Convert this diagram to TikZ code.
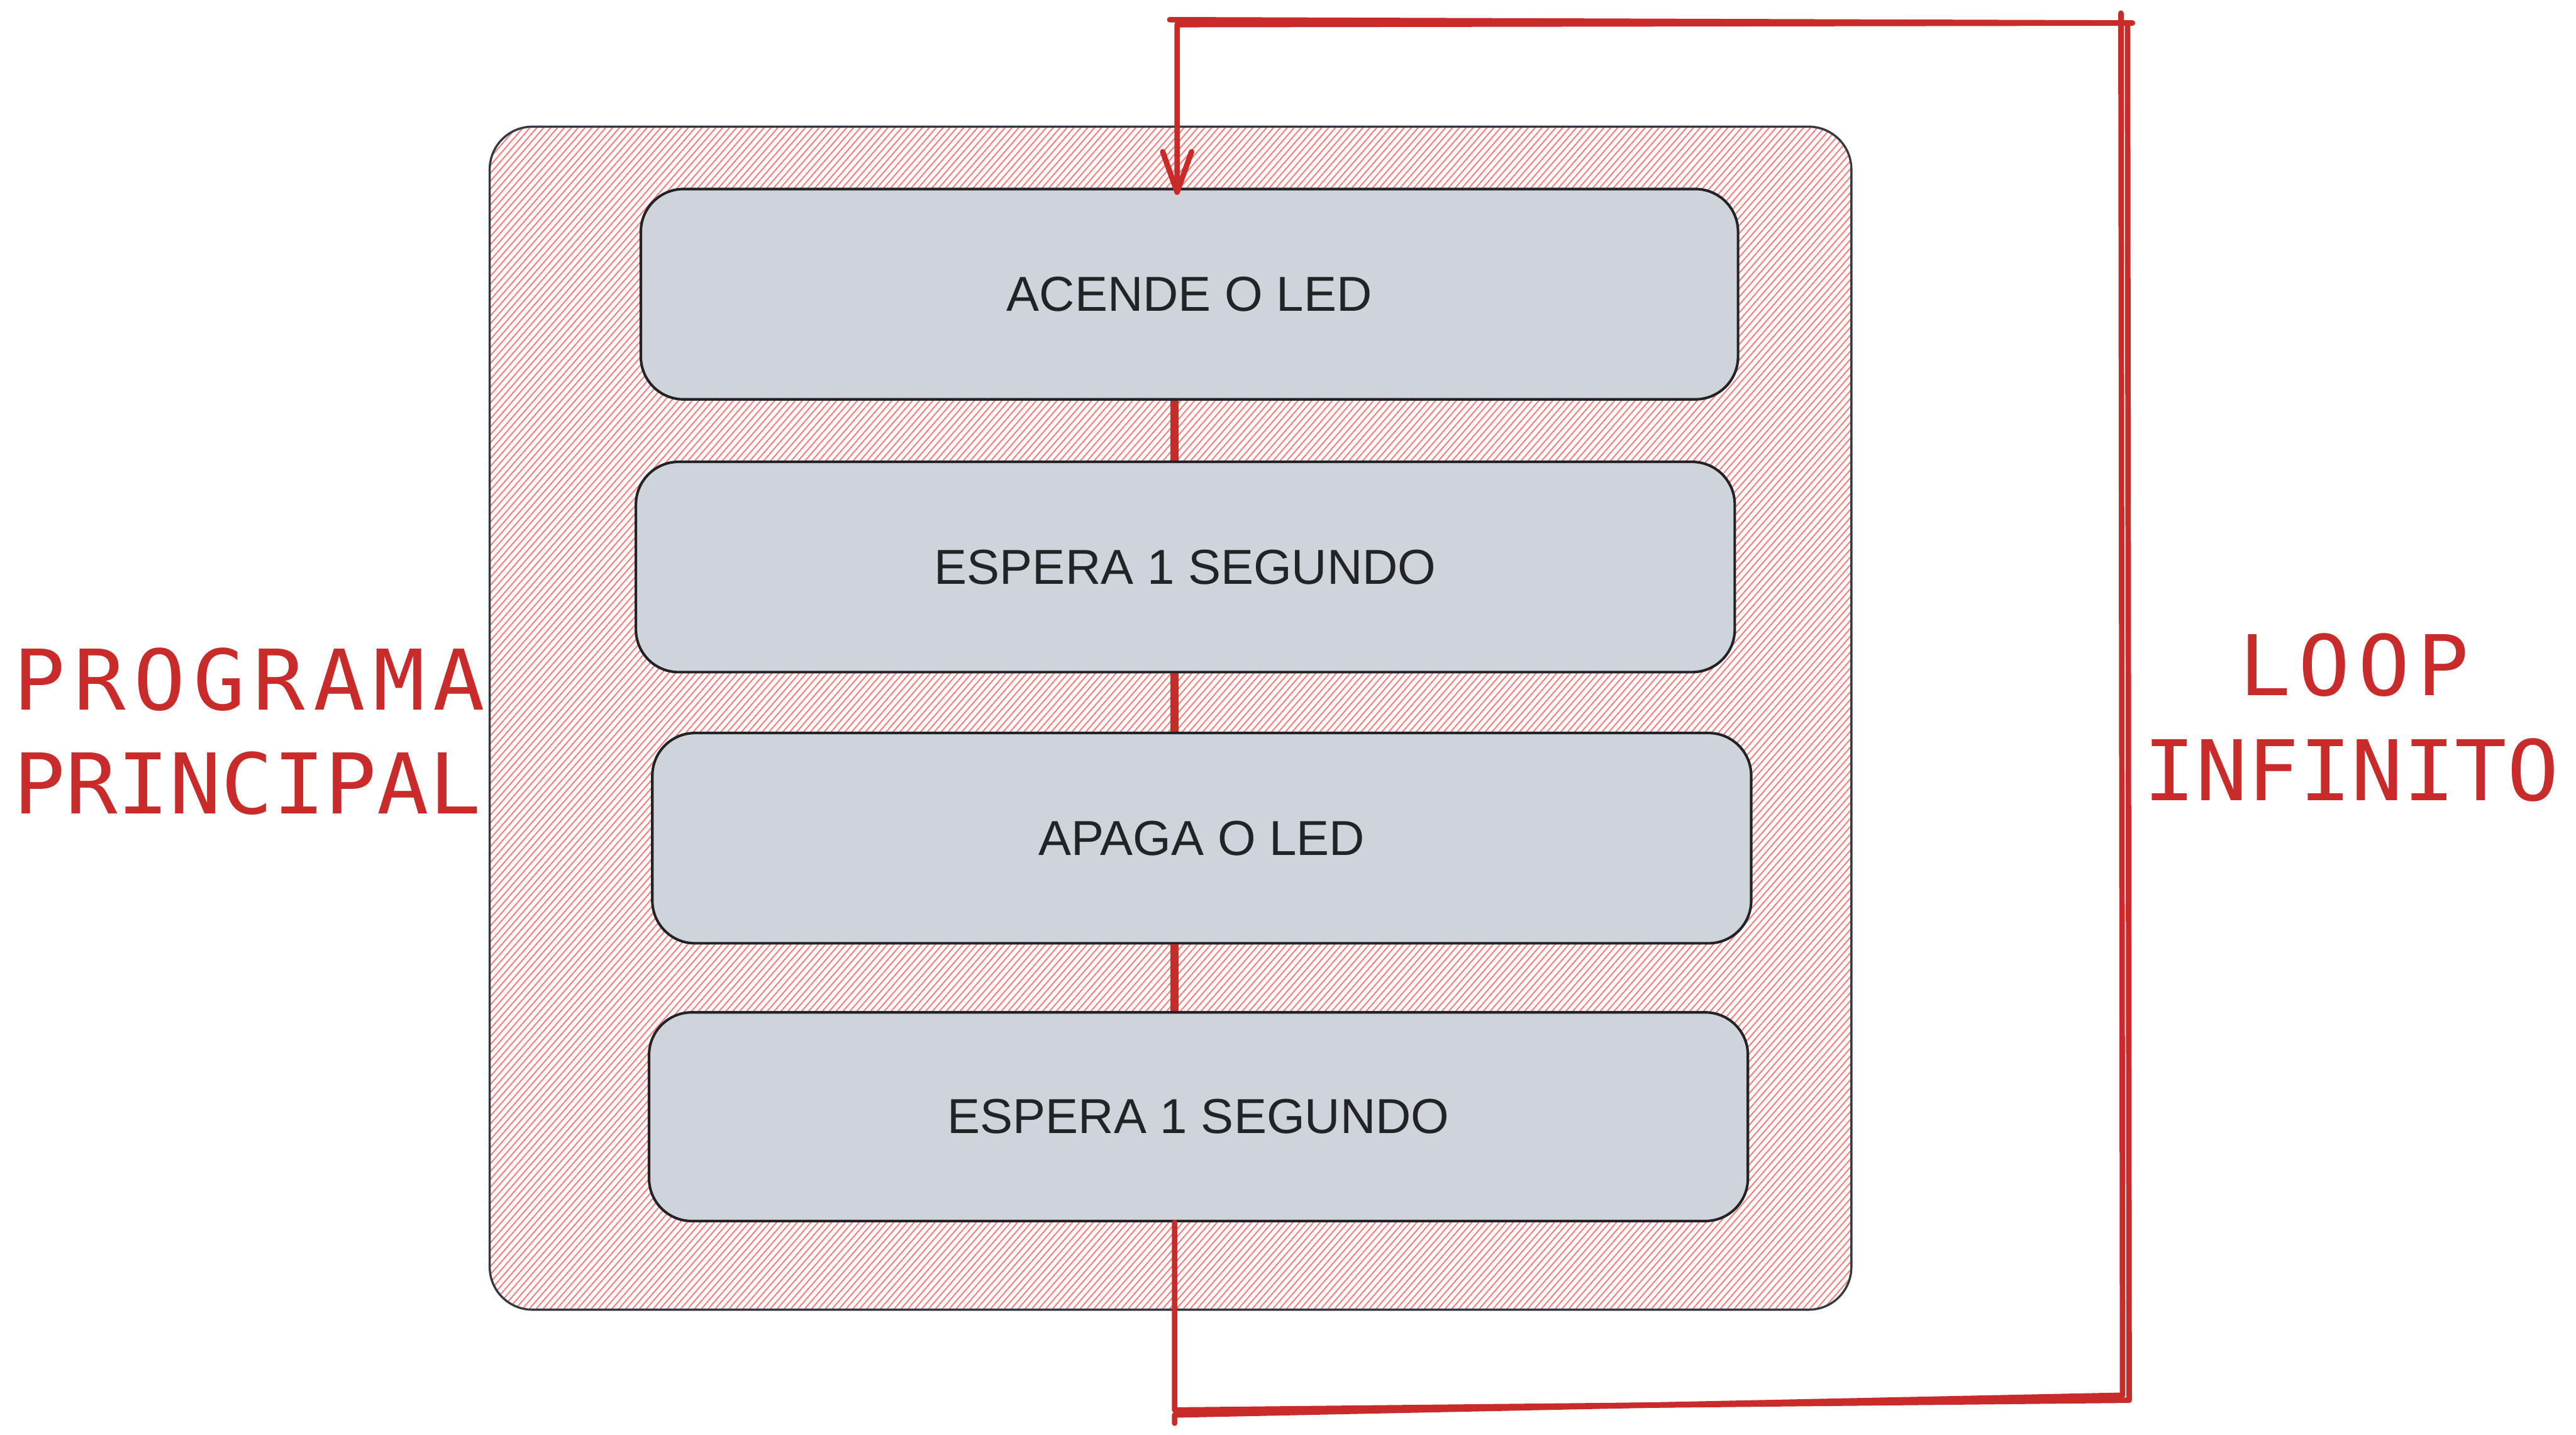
\documentclass[tikz,border=0pt]{standalone}
\usepackage{fontspec}
\setmainfont{Liberation Sans}
\newfontfamily\handfont[FakeStretch=1.03]{DejaVu Sans Mono}
\usetikzlibrary{arrows.meta,patterns.meta}
\definecolor{loopred}{RGB}{201,42,42}
\definecolor{hatchred}{RGB}{255,125,125}
\definecolor{boxgray}{RGB}{206,212,218}
\definecolor{edgegray}{RGB}{52,58,64}
\definecolor{inkdark}{RGB}{34,35,38}
\begin{document}
\begin{tikzpicture}[x=0.02cm,y=-0.02cm,
  container/.style={draw=edgegray, line width=0.75pt, rounded corners=0.52cm,
    pattern={Lines[angle=49,distance=1.8pt,line width=0.45pt]}, pattern color=hatchred,
    minimum width=16.58cm, minimum height=14.4cm, inner sep=0pt},
  stepbox/.style={draw=inkdark, line width=0.9pt, fill=boxgray, rounded corners=0.52cm,
    minimum height=2.56cm, minimum width=13.38cm, inner sep=0pt,
    font=\fontsize{17}{20}\selectfont, text=inkdark},
  link/.style={draw=loopred, line width=2.8pt},
  loopline/.style={draw=loopred, line width=1.9pt, line cap=round, line join=round},
  hand/.style={text=loopred, font=\handfont\fontsize{29}{35}\selectfont, anchor=base west, inner sep=0pt}
]
\fill[white] (0,0) rectangle (1568,873);
\useasboundingbox (0,0) rectangle (1568,873);

% container
\node[container] (main) at (712.5,437) {};

% step boxes
\node[stepbox, minimum width=13.36cm] (b1) at (724,179) {ACENDE O LED};
\node[stepbox] (b2) at (721.5,345) {ESPERA 1 SEGUNDO};
\node[stepbox] (b3) at (731.5,510) {APAGA O LED};
\node[stepbox, minimum height=2.54cm] (b4) at (729.5,679.5) {ESPERA 1 SEGUNDO};

% helper coordinates
\coordinate (lx) at (715,0);
\coordinate (ax) at (716.5,0);
\coordinate (c1) at (715,858);
\coordinate (c2) at (1296,852);
\coordinate (c3) at (1295,14);
\coordinate (c4) at (716.5,15);

% links between boxes
\draw[link] (b1.south -| lx) -- (b2.north -| lx);
\draw[link] (b2.south -| lx) -- (b3.north -| lx);
\draw[link] (b3.south -| lx) -- (b4.north -| lx);

% loop back
\draw[loopline, shorten >=-2.5pt, -{Straight Barb[length=14pt,width=10pt,round]}]
  (b4.south -| lx) -- (c1) -- (c2) -- (c3) -- (c4) -- (b1.north -| ax);
% sketch double strokes
\draw[loopline] (715,866) -- (715,861) -- (1292,849) -- (1291,8);
\draw[loopline] (1298,14) -- (712,12);

% labels
\node[hand] (lp1) at (8,432) {\addfontfeature{LetterSpace=9.6}PROGRAMA};
\node[hand] (lp2) at (8,495) {PRINCIPAL};
\node[hand] (ll1) at (1362.5,423) {\addfontfeature{LetterSpace=9}LOOP};
\node[hand] (ll2) at (1304.5,487) {INFINITO};
\end{tikzpicture}
\end{document}
